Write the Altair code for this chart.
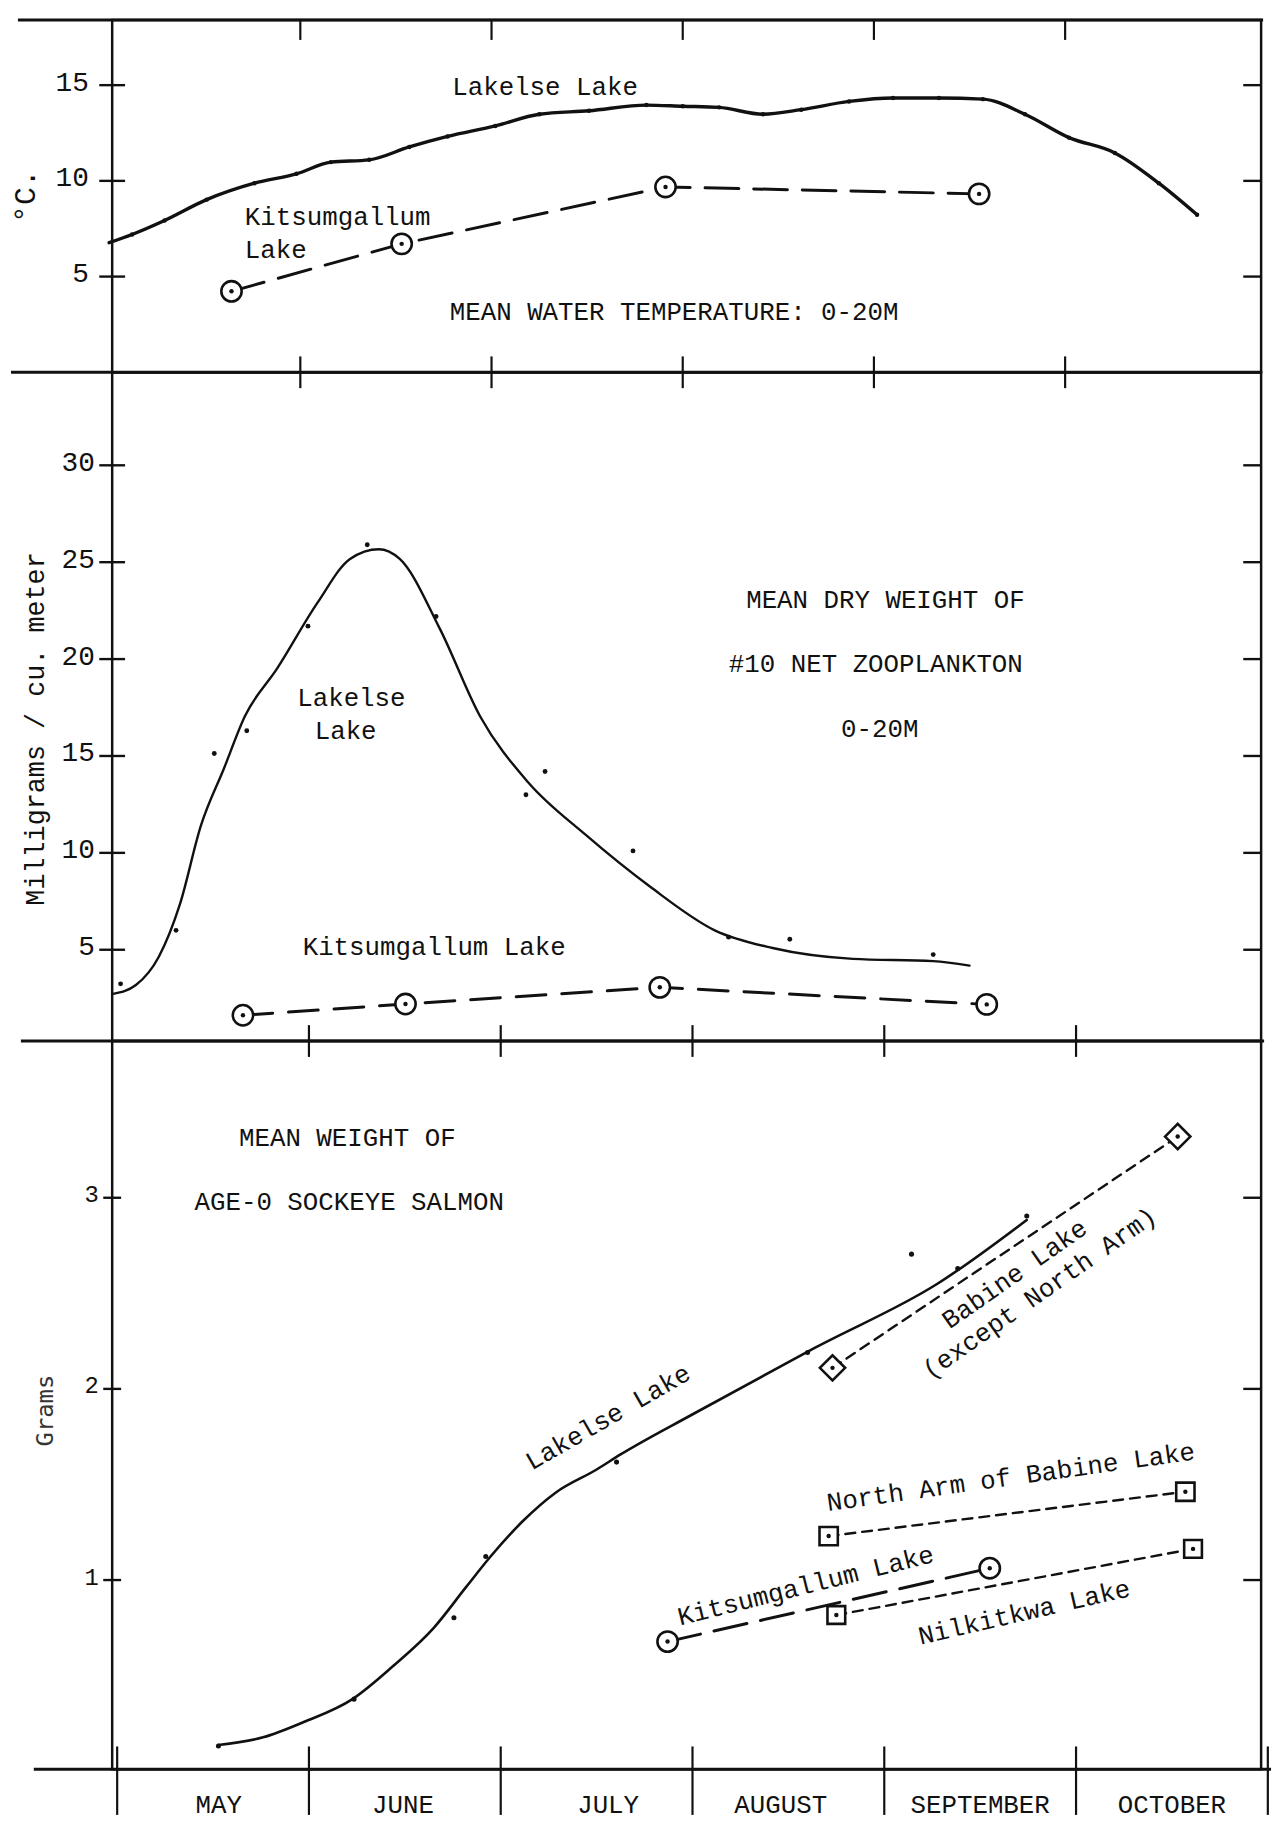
import altair as alt
import pandas as pd

FONT = "Liberation Mono"
INK = "#111111"

# ---------------- shared month axis (0 = 1 May ... 6 = 31 October) ----------------
month_names = ["MAY", "JUNE", "JULY", "AUGUST", "SEPTEMBER", "OCTOBER"]
month_label_pos = [0.53, 1.49, 2.56, 3.46, 4.50, 5.50]
month_bounds = [0, 1, 2, 3, 4, 5, 6]
inner_bounds = [1, 2, 3, 4, 5]

# ---------------- panel 1: mean water temperature 0-20 m (deg C) ----------------
temp_ticks = [5, 10, 15]
temp_lakelse_month = [0.0, 0.12, 0.29, 0.51, 0.76, 0.98, 1.16, 1.36, 1.57, 1.77, 2.02, 2.25, 2.51, 2.81,
                      3.0, 3.19, 3.42, 3.62, 3.87, 4.1, 4.34, 4.57, 4.79, 5.02, 5.26, 5.49, 5.69]
temp_lakelse_c = [6.77, 7.2, 7.93, 9.02, 9.88, 10.37, 10.98, 11.1, 11.77, 12.32, 12.87, 13.48, 13.66, 13.96,
                  13.9, 13.84, 13.48, 13.72, 14.15, 14.33, 14.33, 14.27, 13.48, 12.26, 11.46, 9.88, 8.23]
temp_kits_month = [0.64, 1.53, 2.91, 4.55]
temp_kits_c = [4.23, 6.71, 9.68, 9.32]

# ---------------- panel 2: mean dry weight of #10 net zooplankton (mg / m3) ----------------
zoo_ticks = [5, 10, 15, 20, 25, 30]
zoo_lakelse_curve_month = [0.02, 0.14, 0.26, 0.37, 0.48, 0.6, 0.71, 0.88, 1.09, 1.26, 1.41, 1.52, 1.73,
                           1.94, 2.19, 2.49, 2.83, 3.17, 3.47, 3.89, 4.31, 4.5]
zoo_lakelse_curve_mg = [2.72, 3.18, 4.64, 7.34, 11.4, 14.34, 17.05, 19.53, 22.91, 25.17, 25.67, 25.17, 21.56,
                        17.05, 13.66, 10.95, 8.25, 5.99, 5.09, 4.53, 4.41, 4.18]
zoo_lakelse_obs_month = [0.06, 0.35, 0.55, 0.72, 1.04, 1.35, 1.71, 2.18, 2.28, 2.74, 3.24, 3.56, 4.31]
zoo_lakelse_obs_mg = [3.24, 6.0, 15.13, 16.3, 21.7, 25.9, 22.2, 13.0, 14.2, 10.1, 5.65, 5.54, 4.75]
zoo_kits_month = [0.70, 1.55, 2.88, 4.59]
zoo_kits_mg = [1.62, 2.2, 3.06, 2.18]

# ---------------- panel 3: mean weight of age-0 sockeye salmon (g) ----------------
gram_ticks = [1, 2, 3]
fish_lakelse_curve_month = [0.528, 0.761, 0.973, 1.227, 1.439, 1.651, 1.82, 1.947, 2.117, 2.286, 2.498,
                            2.625, 3.006, 3.642, 4.277, 4.743]
fish_lakelse_curve_g = [0.137, 0.177, 0.257, 0.377, 0.55, 0.75, 0.964, 1.123, 1.31, 1.457, 1.577,
                        1.657, 1.87, 2.217, 2.55, 2.884]
fish_lakelse_obs_month = [0.528, 1.235, 1.756, 1.922, 2.604, 3.6, 4.142, 4.383, 4.743]
fish_lakelse_obs_g = [0.132, 0.377, 0.803, 1.123, 1.617, 2.19, 2.705, 2.63, 2.905]
fish_kits_month = [2.87, 4.55]
fish_kits_g = [0.678, 1.062]
fish_babine_month = [3.73, 5.53]
fish_babine_g = [2.11, 3.32]
fish_northarm_month = [3.71, 5.57]
fish_northarm_g = [1.23, 1.462]
fish_nilkitkwa_month = [3.75, 5.61]
fish_nilkitkwa_g = [0.817, 1.163]

# ---------------- layout ----------------
W = 1158
H1, H2, H3, H4 = 355, 674, 734, 46

XU = alt.Scale(domain=[0.016, 6.025], nice=False, zero=False)
XL = alt.Scale(domain=[-0.026, 5.965], nice=False, zero=False)
Y1 = alt.Scale(domain=[0, 18.4], nice=False, zero=False)
Y2 = alt.Scale(domain=[0.29, 34.8], nice=False, zero=False)
Y3 = alt.Scale(domain=[0.01, 3.82], nice=False, zero=False)


def frame(m, v):
    return pd.DataFrame({"m": m, "v": v})


def enc(xs, ys):
    return dict(x=alt.X("m:Q", scale=xs, axis=None), y=alt.Y("v:Q", scale=ys, axis=None))


def line(m, v, xs, ys, width=2.5, dash=None, interp="linear"):
    kw = dict(color=INK, strokeWidth=width, interpolate=interp, strokeCap="round")
    if dash:
        kw["strokeDash"] = dash
    return alt.Chart(frame(m, v)).mark_line(**kw).encode(**enc(xs, ys))


def marker(m, v, xs, ys, shape, size, sw=2.6):
    outer = alt.Chart(frame(m, v)).mark_point(
        shape=shape, size=size, filled=True, fill="white", stroke=INK, strokeWidth=sw, opacity=1
    ).encode(**enc(xs, ys))
    inner = alt.Chart(frame(m, v)).mark_point(
        shape="circle", size=20, filled=True, color=INK, opacity=1
    ).encode(**enc(xs, ys))
    return [outer, inner]


def dots(m, v, xs, ys, size=22):
    return alt.Chart(frame(m, v)).mark_point(
        shape="circle", size=size, filled=True, color=INK, opacity=1
    ).encode(**enc(xs, ys))


def label(text, m, v, xs, ys, angle=0, align="center", size=26):
    d = pd.DataFrame({"m": [m], "v": [v], "t": [text]})
    return alt.Chart(d).mark_text(
        font=FONT, fontSize=size, align=align, baseline="middle", angle=angle, color=INK
    ).encode(text="t:N", **enc(xs, ys))


def yaxis_layer(ticks, ys, title, title_x, title_y, label_pad, label_size, title_size,
                half=13, right_in=18, title_font=FONT, title_color=INK):
    axis = alt.Axis(
        values=ticks, domain=False, ticks=False, tickSize=0, grid=False,
        labelFont=FONT, labelFontSize=label_size, labelColor=INK, labelPadding=label_pad,
        labelOverlap=False, labelOffset=-3,
        title=title, titleFont=title_font, titleFontSize=title_size, titleFontWeight="normal",
        titleColor=title_color, titleAngle=270, titleBaseline="middle", titleAlign="center",
        titleX=title_x, titleY=title_y,
    )
    d = pd.DataFrame({"v": ticks})
    left = alt.Chart(d).mark_rule(color=INK, strokeWidth=2.4).encode(
        y=alt.Y("v:Q", scale=ys, axis=axis), x=alt.value(-half), x2=alt.value(half)
    )
    right = alt.Chart(d).mark_rule(color=INK, strokeWidth=2.4).encode(
        y=alt.Y("v:Q", scale=ys, axis=None), x=alt.value(W - right_in), x2=alt.value(W)
    )
    return [left, right]


def month_ticks(xs, y0, y1, vals=inner_bounds, width=2.2):
    d = pd.DataFrame({"m": vals})
    return alt.Chart(d).mark_rule(color=INK, strokeWidth=width).encode(
        x=alt.X("m:Q", scale=xs, axis=None), y=alt.value(y0), y2=alt.value(y1)
    )


def hline(y, x0, x1, width=3):
    return alt.Chart(pd.DataFrame({"a": [0]})).mark_rule(color=INK, strokeWidth=width).encode(
        x=alt.value(x0), x2=alt.value(x1), y=alt.value(y)
    )


# ---------------- panel 1 ----------------
p1_layers = yaxis_layer(temp_ticks, Y1, "°C.", -87, 177, 24, 28, 30) + [
    hline(0, -95, W + 2),
    month_ticks(XU, 0, 20),
    line(temp_lakelse_month, temp_lakelse_c, XU, Y1, width=3.4, interp="monotone"),
    dots(temp_lakelse_month[1:], temp_lakelse_c[1:], XU, Y1, size=20),
    line(temp_kits_month, temp_kits_c, XU, Y1, width=3, dash=[34, 15]),
    *marker(temp_kits_month, temp_kits_c, XU, Y1, "circle", 420),
    label("Lakelse Lake", 2.28, 14.9, XU, Y1),
    label("Kitsumgallum", 0.71, 8.11, XU, Y1, align="left"),
    label("Lake", 0.71, 6.41, XU, Y1, align="left"),
    label("MEAN WATER TEMPERATURE:  0-20M", 2.955, 3.13, XU, Y1),
]
p1 = alt.layer(*p1_layers).resolve_axis(y="independent").properties(width=W, height=H1)

# ---------------- panel 2 ----------------
p2_layers = yaxis_layer(zoo_ticks, Y2, "Milligrams / cu. meter", -77, 359, 18, 28, 27) + [
    hline(0, -102, W),
    month_ticks(XU, -16, 16),
    line(zoo_lakelse_curve_month, zoo_lakelse_curve_mg, XU, Y2, width=2.4, interp="monotone"),
    dots(zoo_lakelse_obs_month, zoo_lakelse_obs_mg, XU, Y2, size=24),
    line(zoo_kits_month, zoo_kits_mg, XU, Y2, width=3, dash=[30, 16]),
    *marker(zoo_kits_month, zoo_kits_mg, XU, Y2, "circle", 420),
    label("Lakelse", 1.267, 17.99, XU, Y2),
    label("Lake", 1.237, 16.31, XU, Y2),
    label("Kitsumgallum Lake", 1.70, 5.16, XU, Y2),
    label("MEAN DRY WEIGHT OF", 4.06, 23.03, XU, Y2),
    label("#10 NET ZOOPLANKTON", 4.01, 19.73, XU, Y2),
    label("0-20M", 4.03, 16.37, XU, Y2),
]
p2 = alt.layer(*p2_layers).resolve_axis(y="independent").properties(width=W, height=H2)

# ---------------- panel 3 ----------------
p3_layers = yaxis_layer(gram_ticks, Y3, "Grams", -67, 372, 14, 24, 24, half=9, right_in=18,
                        title_font="DejaVu Sans Mono", title_color="#333333") + [
    hline(0, -92, W + 3),
    hline(H3, -79, W + 10),
    month_ticks(XL, -16, 16),
    line(fish_lakelse_curve_month, fish_lakelse_curve_g, XL, Y3, width=2.6, interp="monotone"),
    dots(fish_lakelse_obs_month, fish_lakelse_obs_g, XL, Y3, size=26),
    line(fish_kits_month, fish_kits_g, XL, Y3, width=3, dash=[34, 14]),
    *marker(fish_kits_month, fish_kits_g, XL, Y3, "circle", 420),
    line(fish_babine_month, fish_babine_g, XL, Y3, width=2.4, dash=[10, 7]),
    *marker(fish_babine_month, fish_babine_g, XL, Y3, "diamond", 650),
    line(fish_northarm_month, fish_northarm_g, XL, Y3, width=2.4, dash=[10, 7]),
    *marker(fish_northarm_month, fish_northarm_g, XL, Y3, "square", 340),
    line(fish_nilkitkwa_month, fish_nilkitkwa_g, XL, Y3, width=2.4, dash=[10, 7]),
    *marker(fish_nilkitkwa_month, fish_nilkitkwa_g, XL, Y3, "square", 320),
    label("MEAN WEIGHT OF", 1.20, 3.31, XL, Y3),
    label("AGE-0 SOCKEYE SALMON", 1.21, 2.98, XL, Y3),
    label("Lakelse Lake", 2.56, 1.85, XL, Y3, angle=330),
    label("Babine Lake", 4.68, 2.60, XL, Y3, angle=325),
    label("(except North Arm)", 4.81, 2.50, XL, Y3, angle=325),
    label("North Arm of Babine Lake", 4.66, 1.537, XL, Y3, angle=352),
    label("Kitsumgallum Lake", 3.59, 0.969, XL, Y3, angle=346),
    label("Nilkitkwa Lake", 4.73, 0.83, XL, Y3, angle=347),
]
p3 = alt.layer(*p3_layers).resolve_axis(y="independent").properties(width=W, height=H3)

# ---------------- month strip ----------------
strip_labels = alt.Chart(pd.DataFrame({"m": month_label_pos, "t": month_names})).mark_text(
    font=FONT, fontSize=26, align="center", baseline="middle", color=INK
).encode(x=alt.X("m:Q", scale=XL, axis=None), y=alt.value(36), text="t:N")
p4 = alt.layer(
    month_ticks(XL, -23, H4, vals=month_bounds, width=2.2),
    strip_labels,
).properties(width=W, height=H4, view=alt.ViewBackground(strokeOpacity=0))

chart = alt.vconcat(p1, p2, p3, p4, spacing=0, bounds="flush").properties(
    padding={"left": 0, "top": 2, "right": 2, "bottom": 0}, background="white"
).configure_view(stroke=INK, strokeWidth=2.5)

chart.save("out.html", embed_options={"renderer": "svg", "actions": False})
